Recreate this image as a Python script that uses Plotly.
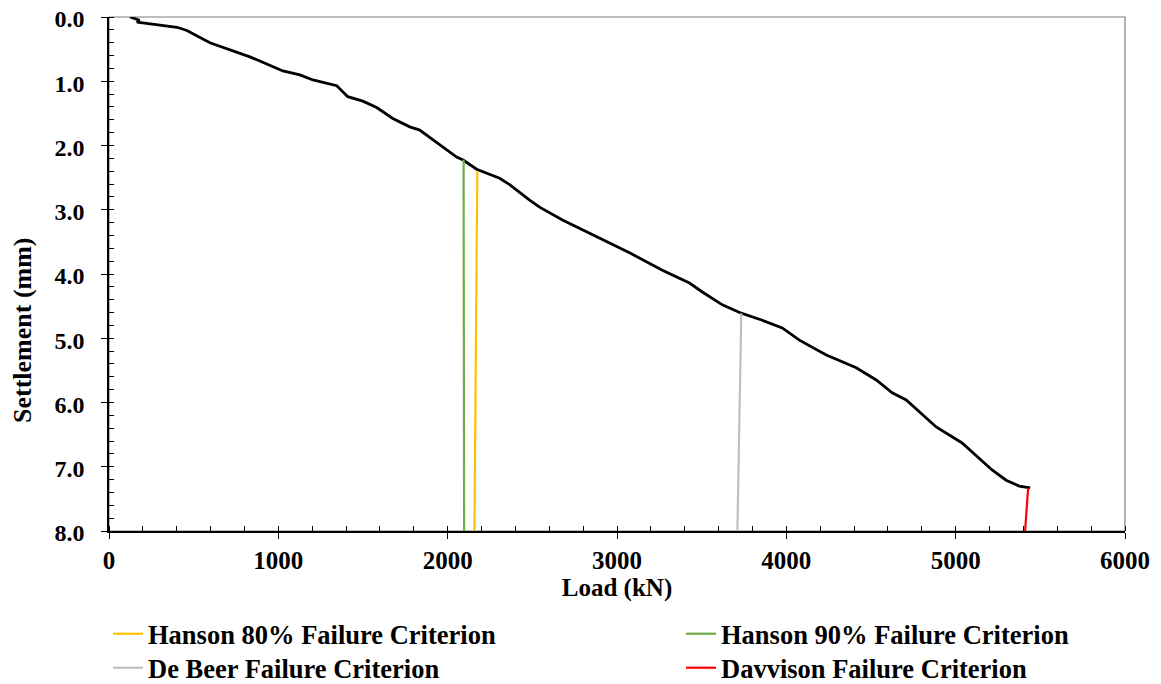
import plotly.graph_objects as go

# Load-settlement curve
load_kN = [124, 180, 165, 230, 300, 401, 460, 596, 832, 1027, 1127, 1204, 1345, 1410,
           1499, 1581, 1676, 1776, 1835, 1953, 2053, 2094, 2171, 2307, 2366, 2484, 2543,
           2678, 2879, 3074, 3268, 3428, 3504, 3622, 3734, 3858, 3976, 4018, 4077, 4236,
           4413, 4531, 4625, 4708, 4885, 5038, 5097, 5215, 5298, 5375, 5440]
settlement_mm = [0.00, 0.05, 0.08, 0.10, 0.12, 0.16, 0.21, 0.40, 0.62, 0.84, 0.90, 0.98,
                 1.07, 1.24, 1.31, 1.41, 1.58, 1.71, 1.76, 1.99, 2.18, 2.23, 2.37, 2.51,
                 2.61, 2.85, 2.96, 3.16, 3.42, 3.67, 3.94, 4.14, 4.28, 4.48, 4.61, 4.72,
                 4.84, 4.92, 5.03, 5.26, 5.46, 5.65, 5.85, 5.96, 6.38, 6.63, 6.77, 7.05,
                 7.21, 7.30, 7.33]

# Failure criteria lines (top point on curve, bottom at axis)
hanson80_load = [2175, 2158]
hanson80_sett = [2.40, 8.0]
hanson90_load = [2094, 2097]
hanson90_sett = [2.22, 8.0]
debeer_load = [3734, 3711]
debeer_sett = [4.61, 8.0]
davisson_load = [5428, 5410]
davisson_sett = [7.33, 8.0]

FONT = "Liberation Serif"
LEG_FONT = dict(family=FONT, size=26.5, color="black")

# the page body adds an 8px offset; size the figure to fit the window
W, H = 1153, 676


def leg(xpx, ymid_px):
    return dict(orientation="v", xref="container", yref="container",
                x=xpx / W, y=(H - ymid_px) / H, xanchor="left", yanchor="middle",
                font=LEG_FONT, itemwidth=30, bgcolor="rgba(0,0,0,0)")


fig = go.Figure()
fig.add_trace(go.Scatter(x=load_kN, y=settlement_mm, mode="lines",
                         line=dict(color="black", width=2.8), showlegend=False))
fig.add_trace(go.Scatter(x=hanson80_load, y=hanson80_sett, mode="lines",
                         line=dict(color="#FFC000", width=2.2), legend="legend",
                         name="<b>Hanson 80% Failure Criterion</b>"))
fig.add_trace(go.Scatter(x=hanson90_load, y=hanson90_sett, mode="lines",
                         line=dict(color="#70AD47", width=2.2), legend="legend2",
                         name="<b>Hanson 90% Failure Criterion</b>"))
fig.add_trace(go.Scatter(x=debeer_load, y=debeer_sett, mode="lines",
                         line=dict(color="#BFBFBF", width=2.2), legend="legend3",
                         name="<b>De Beer Failure Criterion</b>"))
fig.add_trace(go.Scatter(x=davisson_load, y=davisson_sett, mode="lines",
                         line=dict(color="#FF0000", width=2.2), legend="legend4",
                         name="<b>Davvison Failure Criterion</b>"))

fig.update_layout(
    width=W, height=H,
    margin=dict(l=101, r=36, t=9, b=153, autoexpand=False),
    paper_bgcolor="white", plot_bgcolor="white",
    font=dict(family=FONT, color="black", size=20),
    legend=leg(100, 626),
    legend2=leg(673, 626),
    legend3=leg(100, 660),
    legend4=leg(673, 660),
    shapes=[dict(type="rect", xref="paper", yref="paper", x0=0, y0=0, x1=1, y1=1,
                 line=dict(color="#7F7F7F", width=1.2), layer="below")],
    annotations=[dict(text="<b>Settlement (mm)</b>", textangle=-90,
                      xref="paper", yref="paper", x=(14 - 101) / 1016,
                      y=1 - (322 - 9) / 514,
                      xanchor="center", yanchor="middle", showarrow=False,
                      font=dict(family=FONT, size=26, color="black"))],
)

fig.update_xaxes(range=[0, 6000], dtick=1000, tick0=0,
                 showgrid=False, zeroline=False, ticklabeloverflow="allow",
                 showline=True, linecolor="black", linewidth=1.5,
                 ticks="outside", ticklen=6, tickcolor="black", tickwidth=1.2,
                 tickfont=dict(family=FONT, size=25),
                 minor=dict(dtick=200, ticks="inside", ticklen=5,
                            tickcolor="black", tickwidth=1),
                 title=dict(text="<b>Load (kN)</b>", standoff=0,
                            font=dict(family=FONT, size=25)),
                 tickprefix="<b>", ticksuffix="</b>")
fig.update_yaxes(range=[8, 0], dtick=1, tick0=0, tickformat=".1f",
                 showgrid=False, zeroline=False, ticklabeloverflow="allow",
                 showline=True, linecolor="black", linewidth=1.5,
                 ticks="outside", ticklen=6, tickcolor="black", tickwidth=1.2,
                 tickfont=dict(family=FONT, size=24), ticklabelshift=-2,
                 minor=dict(dtick=0.2, ticks="inside", ticklen=5,
                            tickcolor="black", tickwidth=1),
                 tickprefix="<b>", ticksuffix="</b>\u00a0\u00a0")

fig.write_html("out.html")
